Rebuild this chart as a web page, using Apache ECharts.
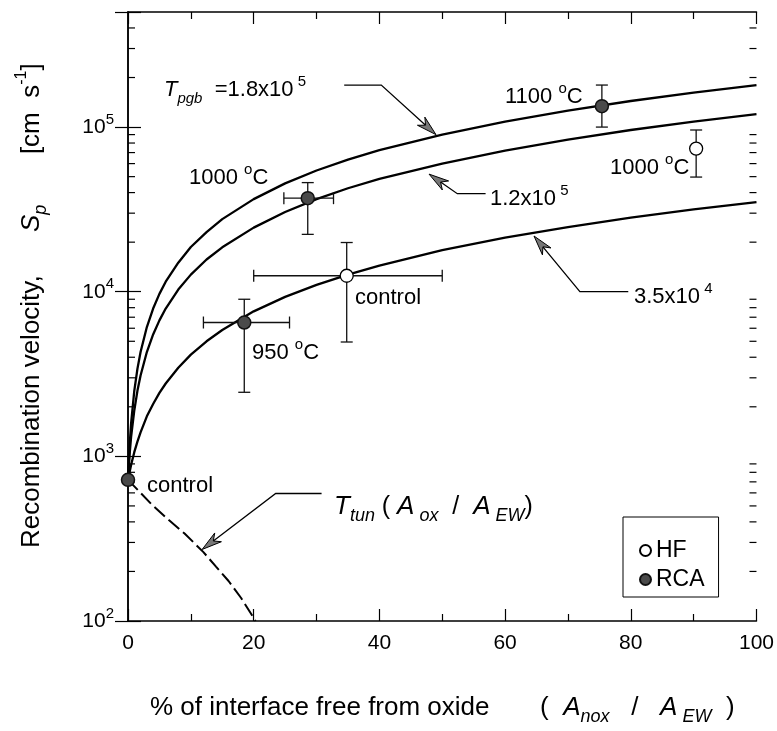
<!DOCTYPE html>
<html><head><meta charset="utf-8">
<script src="https://cdn.jsdelivr.net/npm/echarts@6/dist/echarts.min.js"></script>
<style>html,body{margin:0;padding:0;background:#fff}#c{width:777px;height:731px}</style>
</head><body><div id="c"></div>
<script>
const FONT = '"Liberation Sans", Arial, Helvetica, sans-serif';

// ---- data ----
const xValues  = [0, 0.25, 0.5, 1, 1.5, 2, 3, 4, 5, 6, 8, 10, 12.5, 15, 20, 25, 30, 35, 40, 50, 60, 70, 80, 90, 100];
const curveTop = [720, 1150, 1600, 2500, 3400, 4300, 6100, 7900, 9700, 11500, 15000, 18700, 23000, 27600, 36500, 45500, 54500, 63500, 72500, 90000, 108000, 126000, 144000, 162000, 180000];
const curveMid = [720, 1020, 1320, 1900, 2500, 3100, 4300, 5500, 6700, 7900, 10300, 12700, 15700, 18600, 24500, 30500, 36500, 42500, 48500, 60000, 72000, 84000, 96000, 108000, 120000];
const curveLow = [720, 800, 890, 1060, 1230, 1400, 1750, 2080, 2430, 2770, 3450, 4150, 5000, 5850, 7600, 9300, 11000, 12700, 14400, 17900, 21300, 24700, 28200, 31600, 35000];
const tunX = [0, 2, 4, 6.5, 9, 12, 14, 16, 18, 20.3];
const tunY = [720, 600, 500, 410, 340, 262, 214, 175, 138, 100];

const rcaX    = [0, 18.5, 28.6, 75.4];
const rcaY    = [720, 6500, 37000, 134000];
const rcaXErr = [null, [12.0, 25.7], [24.8, 32.7], null];
const rcaYErr = [null, [2450, 9000], [22300, 46000], [100000, 180000]];
const hfX     = [34.8, 90.4];
const hfY     = [12500, 74000];
const hfXErr  = [[20.0, 50.0], null];
const hfYErr  = [[4950, 19900], [49700, 96000]];

const xTickLabels = [0, 20, 40, 60, 80, 100];
const yMinorTicks = [200,300,400,500,600,700,800,900,2000,3000,4000,5000,6000,7000,8000,9000,
  20000,30000,40000,50000,60000,70000,80000,90000,200000,300000,400000];

// leader lines: [x0,y0, x1,y1, tipX,tipY] in data units
const leaderTpgb = [34.4, 180000, 40.3, 180000, 49.0, 90000];
const leaderMid  = [56.9, 39400, 52.4, 39400, 47.9, 51800];
const leaderLow  = [79.6, 10000, 71.9, 10000, 64.6, 21800];
const leaderTun  = [30.8, 595, 23.5, 595, 11.8, 272];

// ---- build ----
function errRows(xs, ys, xe, ye) {
  return xs.map((x, i) => [x, ys[i],
    xe[i] ? xe[i][0] : x, xe[i] ? xe[i][1] : x,
    ye[i] ? ye[i][0] : ys[i], ye[i] ? ye[i][1] : ys[i]]);
}
const errData = errRows(rcaX, rcaY, rcaXErr, rcaYErr).concat(errRows(hfX, hfY, hfXErr, hfYErr));

const richBase = {
  n: {fontSize: 22, fontFamily: FONT, lineHeight: 32, fill: '#000'},
  i: {fontSize: 22, fontFamily: FONT, fontStyle: 'italic', lineHeight: 32, fill: '#000'},
  sup: {fontSize: 15, fontFamily: FONT, lineHeight: 15, verticalAlign: 'top', fill: '#000'},
  sub: {fontSize: 15, fontFamily: FONT, fontStyle: 'italic', lineHeight: 15, verticalAlign: 'bottom', fill: '#000'},
  N: {fontSize: 25, fontFamily: FONT, lineHeight: 36, fill: '#000'},
  X: {fontSize: 26, fontFamily: FONT, lineHeight: 36, fill: '#000'},
  I: {fontSize: 26, fontFamily: FONT, fontStyle: 'italic', lineHeight: 36, fill: '#000'},
  Isub: {fontSize: 18, fontFamily: FONT, fontStyle: 'italic', lineHeight: 18, verticalAlign: 'bottom', fill: '#000'},
  S: {fontSize: 16, fontFamily: FONT, lineHeight: 16, verticalAlign: 'top', fill: '#000'},
  Y: {fontSize: 26, fontFamily: FONT, lineHeight: 36, fill: '#000'}
};
function txt(x, y, text) {
  return {type: 'text', x: x, y: y, z: 20,
    style: {text: text, rich: richBase, fill: '#000', fontSize: 22, fontFamily: FONT, align: 'left', verticalAlign: 'middle'}};
}
function optRich(r) {
  const o = {};
  for (const k in r) { const s = Object.assign({}, r[k]); s.color = s.fill; delete s.fill; o[k] = s; }
  return o;
}

const axisLineStyle = {color: '#000', width: 1.5};
const tickStyle = {color: '#000', width: 1.2};

const option = {
  animation: false,
  backgroundColor: '#fff',
  grid: {left: 128, right: 16, top: 12, bottom: 98, containLabel: false},
  legend: {
    data: ['HF', 'RCA'], orient: 'vertical', left: 623, top: 517,
    itemWidth: 11, itemHeight: 11, itemGap: 6,
    padding: [22, 14, 6, 16], borderColor: '#000', borderWidth: 1,
    textStyle: {fontSize: 23, fontFamily: FONT, color: '#000', lineHeight: 23},
    backgroundColor: '#fff'
  },
  xAxis: [{
    type: 'value', min: 0, max: 100, interval: 20, position: 'bottom',
    axisLine: {show: true, lineStyle: axisLineStyle},
    axisTick: {show: true, inside: true, length: 12, lineStyle: tickStyle},
    minorTick: {show: true, splitNumber: 2, length: 7, lineStyle: tickStyle},
    splitLine: {show: false},
    axisLabel: {fontSize: 21, fontFamily: FONT, color: '#000', margin: 12,
      formatter: v => xTickLabels.indexOf(v) >= 0 ? String(v) : ''},
    name: '{X|% of interface free from oxide       (  }{I|A}{Isub|nox}{X|   /   }{I|A}{Isub| EW}{X|  )}',
    nameLocation: 'middle', nameGap: 69,
    nameTextStyle: {fontSize: 26, fontFamily: FONT, color: '#000', rich: optRich(richBase)}
  }, {
    type: 'value', min: 0, max: 100, interval: 20, position: 'top',
    axisLine: {show: true, lineStyle: axisLineStyle},
    axisTick: {show: true, inside: true, length: 12, lineStyle: tickStyle},
    minorTick: {show: true, splitNumber: 2, length: 7, lineStyle: tickStyle},
    splitLine: {show: false}, axisLabel: {show: false}
  }],
  yAxis: [{
    type: 'log', logBase: 10, min: 100, max: 500000, position: 'left',
    axisLine: {show: true, lineStyle: axisLineStyle},
    axisTick: {show: true, inside: true, length: 13, lineStyle: tickStyle},
    splitLine: {show: false},
    axisLabel: {margin: 14, color: '#000',
      formatter: v => {
        const e = Math.log10(v), r = Math.round(e);
        if (Math.abs(e - r) > 1e-6) return '';
        return '{b|10}{s|' + r + '}';
      },
      rich: {b: {fontSize: 21, fontFamily: FONT, color: '#000', lineHeight: 30},
             s: {fontSize: 15, fontFamily: FONT, color: '#000', lineHeight: 15, verticalAlign: 'top'}}},
    name: '{Y|   Recombination velocity,      }{I|S}{Isub|p}{Y|       [cm  s}{S|-1}{Y|]}',
    nameLocation: 'middle', nameGap: 78,
    nameTextStyle: {fontSize: 26, fontFamily: FONT, color: '#000', rich: optRich(richBase)}
  }, {
    type: 'log', logBase: 10, min: 100, max: 500000, position: 'right',
    axisLine: {show: true, lineStyle: axisLineStyle},
    axisTick: {show: true, inside: true, length: 13, lineStyle: tickStyle},
    splitLine: {show: false}, axisLabel: {show: false}
  }],
  series: [
    {type: 'line', name: 'Tpgb 1.8e5', data: xValues.map((x, i) => [x, curveTop[i]]),
     showSymbol: false, smooth: false, lineStyle: {color: '#000', width: 2.3}, z: 2},
    {type: 'line', name: 'Tpgb 1.2e5', data: xValues.map((x, i) => [x, curveMid[i]]),
     showSymbol: false, smooth: false, lineStyle: {color: '#000', width: 2.3}, z: 2},
    {type: 'line', name: 'Tpgb 3.5e4', data: xValues.map((x, i) => [x, curveLow[i]]),
     showSymbol: false, smooth: false, lineStyle: {color: '#000', width: 2.3}, z: 2},
    {type: 'line', name: 'Ttun', data: tunX.map((x, i) => [x, tunY[i]]),
     showSymbol: false, smooth: false, lineStyle: {color: '#000', width: 2, type: [14, 5]}, z: 2},
    {type: 'custom', name: 'errorbars', data: errData, z: 3, silent: true,
     renderItem: function (params, api) {
       const c = api.coord([api.value(0), api.value(1)]);
       const ch = [];
       const st = {stroke: '#111', lineWidth: 1.3};
       const xl = api.coord([api.value(2), api.value(1)]), xh = api.coord([api.value(3), api.value(1)]);
       const yl = api.coord([api.value(0), api.value(4)]), yh = api.coord([api.value(0), api.value(5)]);
       const cap = 6;
       if (Math.abs(xh[0] - xl[0]) > 1) {
         ch.push({type: 'line', shape: {x1: xl[0], y1: c[1], x2: xh[0], y2: c[1]}, style: st});
         ch.push({type: 'line', shape: {x1: xl[0], y1: c[1] - cap, x2: xl[0], y2: c[1] + cap}, style: st});
         ch.push({type: 'line', shape: {x1: xh[0], y1: c[1] - cap, x2: xh[0], y2: c[1] + cap}, style: st});
       }
       if (Math.abs(yh[1] - yl[1]) > 1) {
         ch.push({type: 'line', shape: {x1: c[0], y1: yl[1], x2: c[0], y2: yh[1]}, style: st});
         ch.push({type: 'line', shape: {x1: c[0] - cap, y1: yl[1], x2: c[0] + cap, y2: yl[1]}, style: st});
         ch.push({type: 'line', shape: {x1: c[0] - cap, y1: yh[1], x2: c[0] + cap, y2: yh[1]}, style: st});
       }
       return {type: 'group', children: ch};
     }},
    {type: 'scatter', name: 'RCA', data: rcaX.map((x, i) => [x, rcaY[i]]), symbol: 'circle', symbolSize: 13,
     itemStyle: {color: '#4a4a4a', borderColor: '#111', borderWidth: 1.5, opacity: 1}, z: 5},
    {type: 'scatter', name: 'HF', data: hfX.map((x, i) => [x, hfY[i]]), symbol: 'circle', symbolSize: 13,
     itemStyle: {color: '#fff', borderColor: '#000', borderWidth: 1.3, opacity: 1}, z: 5},
    {type: 'custom', name: 'yMinorTicks', data: yMinorTicks.map(v => [0, v]), z: 4, silent: true, clip: false,
     renderItem: function (params, api) {
       const v = api.value(1);
       const a = api.coord([0, v]), b = api.coord([100, v]);
       const st = {stroke: '#000', lineWidth: 1.2};
       return {type: 'group', children: [
         {type: 'line', shape: {x1: a[0], y1: a[1], x2: a[0] + 7, y2: a[1]}, style: st},
         {type: 'line', shape: {x1: b[0], y1: b[1], x2: b[0] - 7, y2: b[1]}, style: st}]};
     }},
    {type: 'custom', name: 'leaders', data: [leaderTpgb, leaderMid, leaderLow, leaderTun], z: 6, silent: true, clip: false,
     renderItem: function (params, api) {
       const p0 = api.coord([api.value(0), api.value(1)]);
       const p1 = api.coord([api.value(2), api.value(3)]);
       const p2 = api.coord([api.value(4), api.value(5)]);
       let dx = p2[0] - p1[0], dy = p2[1] - p1[1];
       const L = Math.sqrt(dx * dx + dy * dy); dx /= L; dy /= L;
       const nx = -dy, ny = dx;
       const len = 20, w = 5.5, notch = 14;
       const back = [p2[0] - dx * len, p2[1] - dy * len];
       const nt = [p2[0] - dx * notch, p2[1] - dy * notch];
       const head = [p2, [back[0] + nx * w, back[1] + ny * w], nt, [back[0] - nx * w, back[1] - ny * w]];
       return {type: 'group', children: [
         {type: 'polyline', shape: {points: [p0, p1, nt]}, style: {stroke: '#000', lineWidth: 1.3, fill: null}},
         {type: 'polygon', shape: {points: head}, style: {fill: '#777', stroke: '#000', lineWidth: 1}}]};
     }}
  ],
  graphic: [
    txt(164, 90, '{i|T}{sub|pgb}{n|  =1.8x10}{sup| 5}'),
    txt(505, 97, '{n|1100 }{sup|o}{n|C}'),
    txt(189, 178, '{n|1000 }{sup|o}{n|C}'),
    txt(490, 199, '{n|1.2x10}{sup| 5}'),
    txt(610, 168, '{n|1000 }{sup|o}{n|C}'),
    txt(634, 297, '{n|3.5x10}{sup| 4}'),
    txt(355, 298, '{n|control}'),
    txt(252, 353, '{n|950 }{sup|o}{n|C}'),
    txt(147, 486, '{n|control}'),
    txt(334, 507, '{I|T}{Isub|tun}{N| ( }{I|A}{Isub| ox}{N|  /  }{I|A}{Isub| EW}{N|)}')
  ]
};
const chart = echarts.init(document.getElementById('c'));
chart.setOption(option);
</script>
</body></html>
